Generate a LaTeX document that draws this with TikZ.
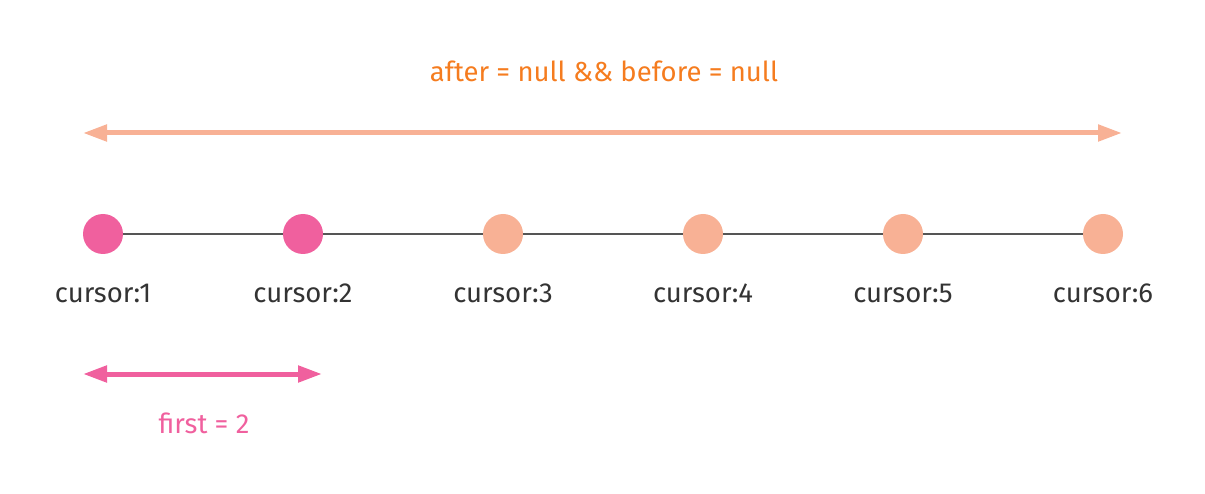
\documentclass[tikz,border=0pt]{standalone}
\usepackage{fontspec}
\setmainfont{Fira Sans}
\usetikzlibrary{arrows.meta}
\definecolor{pinkc}{HTML}{F0609E}
\definecolor{salmon}{HTML}{F8B195}
\definecolor{orangetxt}{HTML}{F57C1F}
\definecolor{linegray}{HTML}{555555}
\definecolor{txtgray}{HTML}{333333}
\tikzset{
  dot/.style={circle, minimum size=40pt, inner sep=0pt, fill=#1},
  txt/.style={font=\fontsize{27.5}{32}\selectfont, anchor=base, inner sep=0pt},
  lbl/.style={txt, text=txtgray},
  dblarrow/.style={draw=#1, line width=5pt, {Triangle[length=24pt,width=16pt]}-{Triangle[length=24pt,width=16pt]}},
}
\begin{document}
\begin{tikzpicture}[x=1pt,y=-1pt]
\useasboundingbox (0,0) rectangle (1205,494);
\foreach \i/\c in {1/pinkc,2/pinkc,3/salmon,4/salmon,5/salmon,6/salmon}{
  \node[dot=\c] (c\i) at ({103+200*(\i-1)},234) {};
  \node[lbl] (l\i) at ({103+200*(\i-1)},303) {cursor:\i};
}
\foreach \a/\b in {1/2,2/3,3/4,4/5,5/6}{
  \draw[linegray, line width=2pt] (c\a) -- (c\b);
}
\coordinate (tl) at (83,133);
\coordinate (tr) at (1122,133);
\draw[dblarrow=salmon] (tl) -- (tr);
\node[txt, text=orangetxt] (top) at (604,82) {after = null \&\& before = null};
\coordinate (bl) at (83,374);
\coordinate (br) at (322,374);
\draw[dblarrow=pinkc] (bl) -- (br);
\node[txt, text=pinkc] (first) at (204,433) {first = 2};
\end{tikzpicture}
\end{document}
